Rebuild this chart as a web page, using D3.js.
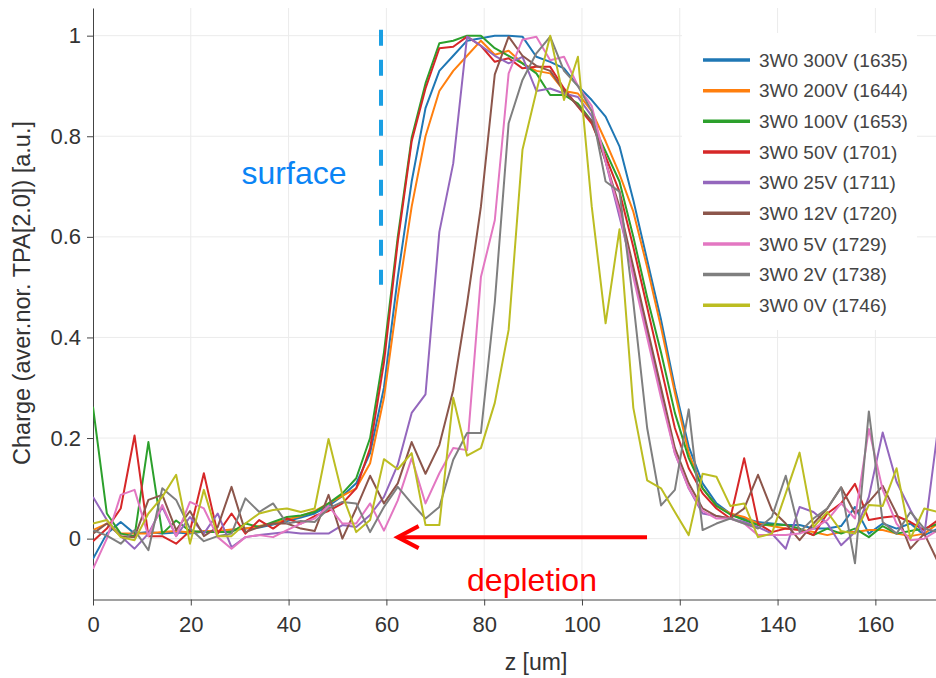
<!DOCTYPE html>
<html>
<head>
<meta charset="utf-8">
<script src="https://cdn.jsdelivr.net/npm/d3@7"></script>
<style>
  body { margin: 0; background: #fff; }
  svg { display: block; font-family: "Liberation Sans", Arial, sans-serif; }
</style>
</head>
<body>
<div id="chart"></div>
<script>
// z positions of the scan (um)
const zValues = [0, 2.83, 5.67, 8.5, 11.33, 14.17, 17, 19.83, 22.67, 25.5, 28.33, 31.17, 34, 36.83, 39.67,
  42.5, 45.33, 48.17, 51, 53.83, 56.67, 59.5, 62.33, 65.17, 68, 70.83, 73.67, 76.5, 79.33, 82.17, 85,
  87.83, 90.67, 93.5, 96.33, 99.17, 102, 104.83, 107.67, 110.5, 113.33, 116.17, 119, 121.83, 124.67,
  127.5, 130.33, 133.17, 136, 138.83, 141.67, 144.5, 147.33, 150.17, 153, 155.83, 158.67, 161.5,
  164.33, 167.17, 170, 172.83]

const seriesNames = ["3W0 300V (1635)", "3W0 200V (1644)", "3W0 100V (1653)", "3W0 50V (1701)",
  "3W0 25V (1711)", "3W0 12V (1720)", "3W0 5V (1729)", "3W0 2V (1738)", "3W0 0V (1746)"]

const seriesColors = ["#1f77b4", "#ff7f0e", "#2ca02c", "#d62728", "#9467bd", "#8c564b", "#e377c2", "#7f7f7f", "#bcbd22"]

const v300 = [-0.04, 0.01, 0.033, 0.01, 0.013, 0.01, 0.012, 0.01, 0.014, 0.015, 0.016, 0.02, 0.022, 0.028, 0.035,
  0.042, 0.05, 0.065, 0.085, 0.11, 0.17, 0.30, 0.52, 0.71, 0.856, 0.93, 0.96, 0.99, 0.995, 1.0, 1.0,
  0.998, 0.958, 0.948, 0.935, 0.9, 0.872, 0.839, 0.78, 0.673, 0.554, 0.435, 0.30, 0.183, 0.11,
  0.07, 0.05, 0.04, 0.033, 0.03, 0.027, 0.027, 0.02, 0.02, 0.025, 0.063, 0.01, 0.03, 0.02, 0.03, 0.007, 0.02]
const v200 = [0.017, 0.03, 0.01, 0.01, 0.01, 0.013, 0.015, 0.012, 0.015, 0.015, 0.018, 0.02, 0.025, 0.03, 0.038,
  0.045, 0.055, 0.07, 0.085, 0.1, 0.15, 0.28, 0.48, 0.66, 0.80, 0.89, 0.93, 0.96, 0.99, 0.962, 0.97,
  0.945, 0.93, 0.925, 0.89, 0.885, 0.85, 0.79, 0.725, 0.65, 0.54, 0.42, 0.29, 0.17, 0.1,
  0.065, 0.05, 0.043, 0.03, 0.025, 0.02, 0.018, 0.013, 0.007, 0.013, 0.013, 0.017, 0.017, 0.01, 0.005, 0.01, 0.03]
const v100 = [0.262, 0.05, 0.01, 0.005, 0.192, 0.01, 0.036, 0.015, 0.013, 0.013, 0.013, 0.03, 0.023, 0.033, 0.043,
  0.046, 0.053, 0.07, 0.09, 0.12, 0.2, 0.37, 0.6, 0.797, 0.905, 0.985, 0.99, 1.0, 1.0, 0.975, 0.96,
  0.945, 0.925, 0.882, 0.882, 0.865, 0.83, 0.77, 0.71, 0.6, 0.48, 0.37, 0.25, 0.16, 0.1,
  0.065, 0.048, 0.037, 0.027, 0.028, 0.027, 0.02, 0.007, 0.02, 0.01, 0.02, 0.003, 0.025, 0.01, 0.015, 0.02, 0.03]
const v50 = [-0.005, 0.02, 0.06, 0.205, 0.005, 0.005, -0.01, 0.015, 0.13, 0.01, 0.05, 0.01, 0.037, 0.02, 0.04,
  0.03, 0.045, 0.055, 0.07, 0.1, 0.18, 0.35, 0.59, 0.79, 0.895, 0.975, 0.978, 0.998, 0.98, 0.948, 0.955,
  0.935, 0.938, 0.938, 0.895, 0.859, 0.825, 0.76, 0.69, 0.58, 0.46, 0.34, 0.22, 0.14, 0.09,
  0.06, 0.04, 0.16, 0.03, 0.013, 0.02, 0.017, 0.007, 0.05, 0.07, 0.109, 0.037, 0.042, 0.045, 0.033, 0.017, 0.037]
const v25 = [0.083, 0.037, 0.005, -0.02, 0.01, 0.063, 0.005, 0.043, 0.01, 0.05, -0.017, 0.003, 0.007, 0.01, 0.013,
  0.01, 0.01, 0.01, 0.027, 0.023, 0.047, 0.083, 0.147, 0.25, 0.287, 0.61, 0.746, 0.998, 0.98, 0.96, 0.945,
  0.958, 0.89, 0.895, 0.885, 0.878, 0.84, 0.75, 0.64, 0.53, 0.41, 0.29, 0.17, 0.1, 0.05,
  0.045, 0.04, 0.033, 0.023, 0.01, -0.02, 0.063, 0.053, 0.03, -0.013, 0.013, 0.083, 0.211, 0.113, 0.057, 0.007, 0.22]
const v12 = [0.01, 0.03, 0.005, 0.003, 0.077, 0.087, 0.017, 0.055, 0.005, 0.023, 0.103, 0.013, 0.023, 0.03, 0.03,
  0.02, 0.015, 0.087, 0.0, 0.06, 0.125, 0.07, 0.11, 0.192, 0.129, 0.186, 0.295, 0.467, 0.66, 0.923, 0.998,
  0.96, 0.94, 0.93, 0.89, 0.86, 0.83, 0.75, 0.66, 0.54, 0.42, 0.3, 0.18, 0.11, 0.06,
  0.045, 0.04, 0.06, 0.127, 0.057, 0.03, -0.003, 0.03, 0.06, 0.102, 0.05, 0.073, 0.105, 0.05, -0.02, 0.01, -0.047]
const v5 = [-0.06, 0.0, 0.087, 0.097, 0.005, 0.067, 0.005, 0.073, 0.06, 0.003, -0.02, 0.003, 0.007, 0.003, 0.017,
  0.03, 0.04, 0.065, 0.03, 0.03, 0.07, 0.016, 0.076, 0.16, 0.07, 0.13, 0.18, 0.176, 0.52, 0.633, 0.925,
  0.992, 0.998, 0.951, 0.958, 0.9, 0.86, 0.75, 0.65, 0.52, 0.4, 0.28, 0.17, 0.1, 0.055,
  0.04, 0.04, 0.03, 0.007, 0.007, 0.007, 0.01, 0.02, 0.037, 0.07, 0.04, 0.218, 0.097, 0.03, -0.003, 0.0, 0.017]
const v2 = [0.017, 0.006, -0.01, 0.017, -0.023, 0.1, 0.077, 0.02, -0.005, 0.005, 0.01, 0.08, 0.053, 0.07, 0.03,
  0.035, 0.033, 0.06, 0.073, 0.07, 0.013, 0.063, 0.103, 0.07, 0.04, 0.063, 0.157, 0.21, 0.21, 0.47, 0.826,
  0.912, 0.965, 0.998, 0.93, 0.9, 0.85, 0.71, 0.69, 0.47, 0.22, 0.066, 0.097, 0.257, 0.017,
  0.03, 0.04, 0.03, 0.02, 0.043, 0.125, 0.013, 0.04, 0.06, 0.102, -0.049, 0.253, 0.033, 0.01, 0.053, 0.02, 0.013]
const v0 = [0.03, 0.037, 0.003, -0.003, 0.05, 0.083, 0.127, -0.01, 0.097, 0.005, 0.005, 0.03, 0.05, 0.057, 0.06,
  0.053, 0.06, 0.198, 0.087, 0.013, 0.037, 0.158, 0.138, 0.17, 0.027, 0.027, 0.28, 0.165, 0.18, 0.27, 0.415,
  0.773, 0.889, 1.0, 0.872, 0.958, 0.66, 0.428, 0.615, 0.26, 0.116, 0.1, 0.053, 0.007, 0.129,
  0.123, 0.065, 0.07, 0.003, 0.01, 0.09, 0.171, 0.023, 0.053, 0.015, 0.01, 0.067, 0.065, 0.14, 0.0, 0.06, 0.053]

const seriesValues = [v300, v200, v100, v50, v25, v12, v5, v2, v0]

const xTicks = [0, 20, 40, 60, 80, 100, 120, 140, 160]
const yTicks = [0, 0.2, 0.4, 0.6, 0.8, 1]

// annotation positions in data units
const surfaceZ = 58.9
const surfaceRange = [0.505, 1.012]
const arrowFrom = [113.3, 0.003]
const arrowTo = [62.3, 0.003]

const width = 936, height = 678
const margin = {top: 8, right: 0, bottom: 78.5, left: 93}

const svg = d3.select("#chart").append("svg")
  .attr("width", width)
  .attr("height", height)

svg.append("rect").attr("width", width).attr("height", height).attr("fill", "#fff")

const x = d3.scaleLinear().domain([0, 172.4]).range([margin.left, width - margin.right])
const y = d3.scaleLinear().domain([-0.121, 1.055]).range([height - margin.bottom, margin.top])

svg.append("clipPath").attr("id", "clip")
  .append("rect")
    .attr("x", margin.left).attr("y", margin.top)
    .attr("width", width - margin.left - margin.right)
    .attr("height", height - margin.top - margin.bottom)

// grid
const grid = svg.append("g")
grid.selectAll(".vg").data(xTicks.filter(d => d > 0)).enter().append("line")
  .attr("x1", d => x(d)).attr("x2", d => x(d))
  .attr("y1", margin.top).attr("y2", height - margin.bottom)
  .attr("stroke", "#ebebeb").attr("stroke-width", 1)
grid.selectAll(".hg").data(yTicks).enter().append("line")
  .attr("x1", margin.left).attr("x2", width)
  .attr("y1", d => y(d)).attr("y2", d => y(d))
  .attr("stroke", "#ebebeb").attr("stroke-width", 1)

// axes
const xAxis = svg.append("g")
  .attr("transform", `translate(0,${height - margin.bottom})`)
  .call(d3.axisBottom(x).tickValues(xTicks).tickSize(6).tickSizeOuter(0).tickPadding(6).tickFormat(d3.format("d")))
const yAxis = svg.append("g")
  .attr("transform", `translate(${margin.left},0)`)
  .call(d3.axisLeft(y).tickValues(yTicks).tickSize(6).tickSizeOuter(0).tickPadding(6).tickFormat(d => d === 0 || d === 1 ? d : d3.format(".1f")(d)))

;[xAxis, yAxis].forEach(a => {
  a.select(".domain").attr("stroke", "#444")
  a.selectAll(".tick line").attr("stroke", "#444")
  a.selectAll(".tick text").attr("fill", "#333").style("font-size", "22px")
    .style("font-family", "'Liberation Sans', Arial, sans-serif")
})
xAxis.selectAll(".tick text").attr("dy", "0.95em")

svg.append("text")
  .attr("x", 536).attr("y", 670)
  .attr("text-anchor", "middle")
  .attr("fill", "#333")
  .style("font-size", "23px")
  .text("z [um]")

svg.append("text")
  .attr("transform", "translate(30,293) rotate(-90)")
  .attr("text-anchor", "middle")
  .attr("fill", "#333")
  .style("font-size", "23.5px")
  .text("Charge (aver.nor. TPA[2.0]) [a.u.]")

// curves
const line = d3.line()
  .x((d, i) => x(zValues[i]))
  .y(d => y(d))

svg.append("g").attr("clip-path", "url(#clip)")
  .selectAll("path")
  .data(seriesValues)
  .enter()
  .append("path")
    .attr("d", d => line(d))
    .attr("fill", "none")
    .attr("stroke", (d, i) => seriesColors[i])
    .attr("stroke-width", 2)
    .attr("stroke-linejoin", "round")

// legend
const legend = svg.append("g")
legend.append("rect")
  .attr("x", 682).attr("y", 33).attr("width", 235).attr("height", 297)
  .attr("fill", "#fff")
const entry = legend.selectAll(".entry").data(seriesNames).enter().append("g")
  .attr("transform", (d, i) => `translate(0,${60 + i * 30.65})`)
entry.append("line")
  .attr("x1", 703).attr("x2", 750).attr("y1", 0).attr("y2", 0)
  .attr("stroke", (d, i) => seriesColors[i]).attr("stroke-width", 3.5)
entry.append("text")
  .attr("x", 759).attr("y", 0).attr("dy", "0.35em")
  .attr("fill", "#444")
  .style("font-size", "19px")
  .text(d => d)

// surface marker
svg.append("line")
  .attr("x1", x(surfaceZ)).attr("x2", x(surfaceZ))
  .attr("y1", y(surfaceRange[1])).attr("y2", y(surfaceRange[0]))
  .attr("stroke", "#1a9fe3").attr("stroke-width", 4)
  .attr("stroke-dasharray", "16 14")
svg.append("text")
  .attr("x", 294).attr("y", 184)
  .attr("text-anchor", "middle")
  .attr("fill", "#0a84f5")
  .style("font-size", "32px")
  .text("surface")

// depletion arrow
svg.append("line")
  .attr("x1", x(arrowFrom[0])).attr("x2", x(arrowTo[0]) + 2)
  .attr("y1", y(arrowFrom[1])).attr("y2", y(arrowTo[1]))
  .attr("stroke", "#ff0000").attr("stroke-width", 4)
svg.append("path")
  .attr("d", `M${x(arrowTo[0]) + 21},${y(arrowTo[1]) - 11} L${x(arrowTo[0])},${y(arrowTo[1])} L${x(arrowTo[0]) + 21},${y(arrowTo[1]) + 11}`)
  .attr("fill", "none").attr("stroke", "#ff0000").attr("stroke-width", 4)
svg.append("text")
  .attr("x", 532).attr("y", 591)
  .attr("text-anchor", "middle")
  .attr("fill", "#ff0000")
  .style("font-size", "32px")
  .text("depletion")
</script>
</body>
</html>
